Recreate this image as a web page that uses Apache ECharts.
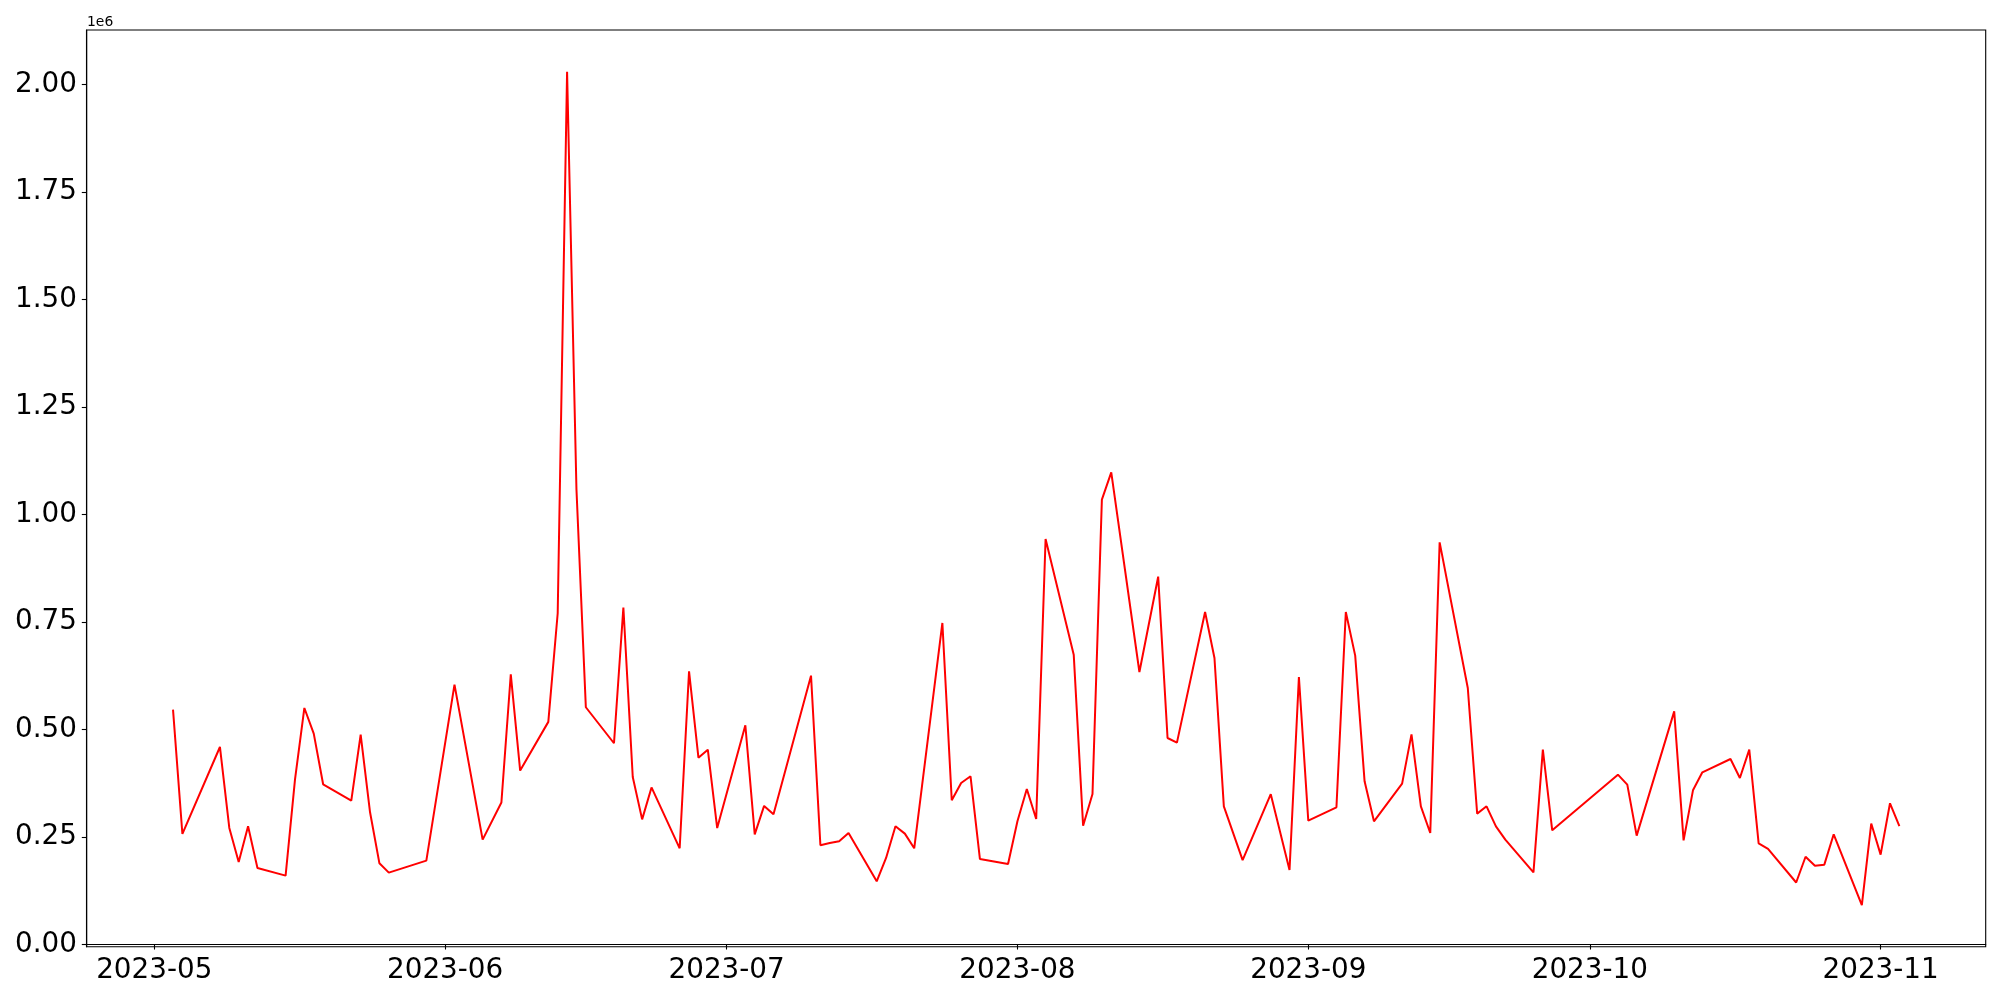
<!DOCTYPE html>
<html>
<head>
<meta charset="utf-8">
<script src="https://cdn.jsdelivr.net/npm/echarts@6/dist/echarts.min.js"></script>
<style>
html,body{margin:0;padding:0;background:#fff;}
#chart{width:2000px;height:1000px;}
</style>
</head>
<body>
<div id="chart"></div>
<script>
const dates = [
 '2023-05-03','2023-05-04','2023-05-08','2023-05-09','2023-05-10','2023-05-11','2023-05-12',
 '2023-05-15','2023-05-16','2023-05-17','2023-05-18','2023-05-19',
 '2023-05-22','2023-05-23','2023-05-24','2023-05-25','2023-05-26',
 '2023-05-30','2023-06-02',
 '2023-06-05','2023-06-07','2023-06-08','2023-06-09',
 '2023-06-12','2023-06-13','2023-06-14','2023-06-15','2023-06-16',
 '2023-06-19','2023-06-20','2023-06-21','2023-06-22','2023-06-23',
 '2023-06-26','2023-06-27','2023-06-28','2023-06-29','2023-06-30',
 '2023-07-03','2023-07-04','2023-07-05','2023-07-06',
 '2023-07-10','2023-07-11','2023-07-12','2023-07-13','2023-07-14',
 '2023-07-17','2023-07-18','2023-07-19','2023-07-20','2023-07-21',
 '2023-07-24','2023-07-25','2023-07-26','2023-07-27','2023-07-28',
 '2023-07-31','2023-08-01','2023-08-02','2023-08-03','2023-08-04',
 '2023-08-07','2023-08-08','2023-08-09','2023-08-10','2023-08-11',
 '2023-08-14','2023-08-16','2023-08-17','2023-08-18',
 '2023-08-21','2023-08-22','2023-08-23','2023-08-25',
 '2023-08-28','2023-08-30','2023-08-31','2023-09-01',
 '2023-09-04','2023-09-05','2023-09-06','2023-09-07','2023-09-08',
 '2023-09-11','2023-09-12','2023-09-13','2023-09-14','2023-09-15',
 '2023-09-18','2023-09-19','2023-09-20','2023-09-21','2023-09-22',
 '2023-09-25','2023-09-26','2023-09-27',
 '2023-10-04','2023-10-05','2023-10-06',
 '2023-10-10','2023-10-11','2023-10-12','2023-10-13',
 '2023-10-16','2023-10-17','2023-10-18','2023-10-19','2023-10-20',
 '2023-10-23','2023-10-24','2023-10-25','2023-10-26','2023-10-27',
 '2023-10-30','2023-10-31','2023-11-01','2023-11-02','2023-11-03'
];
const values = [
 546500,257400,459700,271300,192200,275200,178300,
 160500,383700,550400,490700,372900,
 334900,488400,307800,189100,167400,
 195300,604700,
 244200,330500,628800,404900,
 518100,770700,2030400,1058400,552100,
 468400,784200,390000,291400,365600,
 224000,635800,434700,453500,271200,
 510200,256300,322600,303500,
 625600,231000,236400,240300,259700,
 147300,201600,275200,258100,224000,
 748100,335700,376000,391500,199200,
 187600,286800,362000,292200,943400,
 674400,276700,350400,1034900,1098400,
 634100,855800,480600,469800,
 773700,666700,321700,196500,
 349900,173600,622500,288400,
 319400,773700,672100,379800,286800,
 374400,489100,321700,259700,935700,
 596900,304700,321700,275200,244200,
 168200,453500,265900,
 395300,372100,253500,
 542600,242600,358900,400800,
 431800,387600,453500,235500,222600,
 144500,204400,183500,186000,256700,
 92100,281600,209300,328800,275800
];
const xTickLabels = ['2023-05','2023-06','2023-07','2023-08','2023-09','2023-10','2023-11'];
const yTickValues = [0,250000,500000,750000,1000000,1250000,1500000,1750000,2000000];
const yOffsetText = '1e6';

function ts(s){ const p = s.split('-').map(Number); return Date.UTC(p[0], p[1]-1, p[2] || 1); }

const seriesData = dates.map((d,i)=>[ts(d), values[i]]);
const xFirst = ts(dates[0]), xLast = ts(dates[dates.length-1]);
const xSpan = xLast - xFirst;
const vMin = Math.min(...values), vMax = Math.max(...values);
const vSpan = vMax - vMin;
const xTickValues = xTickLabels.map(ts);

const font = 'DejaVu Sans';
const chart = echarts.init(document.getElementById('chart'), null, {renderer:'canvas'});
chart.setOption({
  animation:false,
  backgroundColor:'#ffffff',
  grid:{left:86.7, top:30, right:14.3, bottom:53.3, show:true, borderColor:'#000', borderWidth:1.1, backgroundColor:'transparent'},
  xAxis:{
    type:'value',
    min:xFirst - 0.05*xSpan,
    max:xLast + 0.05*xSpan,
    axisLine:{show:true, lineStyle:{color:'#000', width:1.1}},
    axisTick:{show:true, length:4.9, lineStyle:{color:'#000', width:1.1}, customValues:xTickValues},
    axisLabel:{show:true, margin:9.8, color:'#000', fontSize:27.8, fontFamily:font,
      customValues:xTickValues,
      formatter:function(v){ const i = xTickValues.indexOf(v); return i >= 0 ? xTickLabels[i] : ''; }},
    splitLine:{show:false}
  },
  yAxis:{
    type:'value',
    min:vMin - 0.05*vSpan,
    max:vMax + 0.05*vSpan,
    axisLine:{show:true, lineStyle:{color:'#000', width:1.1}},
    axisTick:{show:true, length:4.9, lineStyle:{color:'#000', width:1.1}, customValues:yTickValues},
    axisLabel:{show:true, margin:9.8, color:'#000', fontSize:27.8, fontFamily:font,
      customValues:yTickValues,
      formatter:function(v){ return (v/1e6).toFixed(2); }},
    splitLine:{show:false}
  },
  graphic:[{type:'text', left:87, top:15, style:{text:yOffsetText, fontSize:13.9, fontFamily:font, fill:'#000'}}],
  series:[{
    type:'line',
    data:seriesData,
    showSymbol:false,
    symbol:'none',
    lineStyle:{color:'#ff0000', width:2},
    itemStyle:{color:'#ff0000'}
  }]
});
</script>
</body>
</html>
